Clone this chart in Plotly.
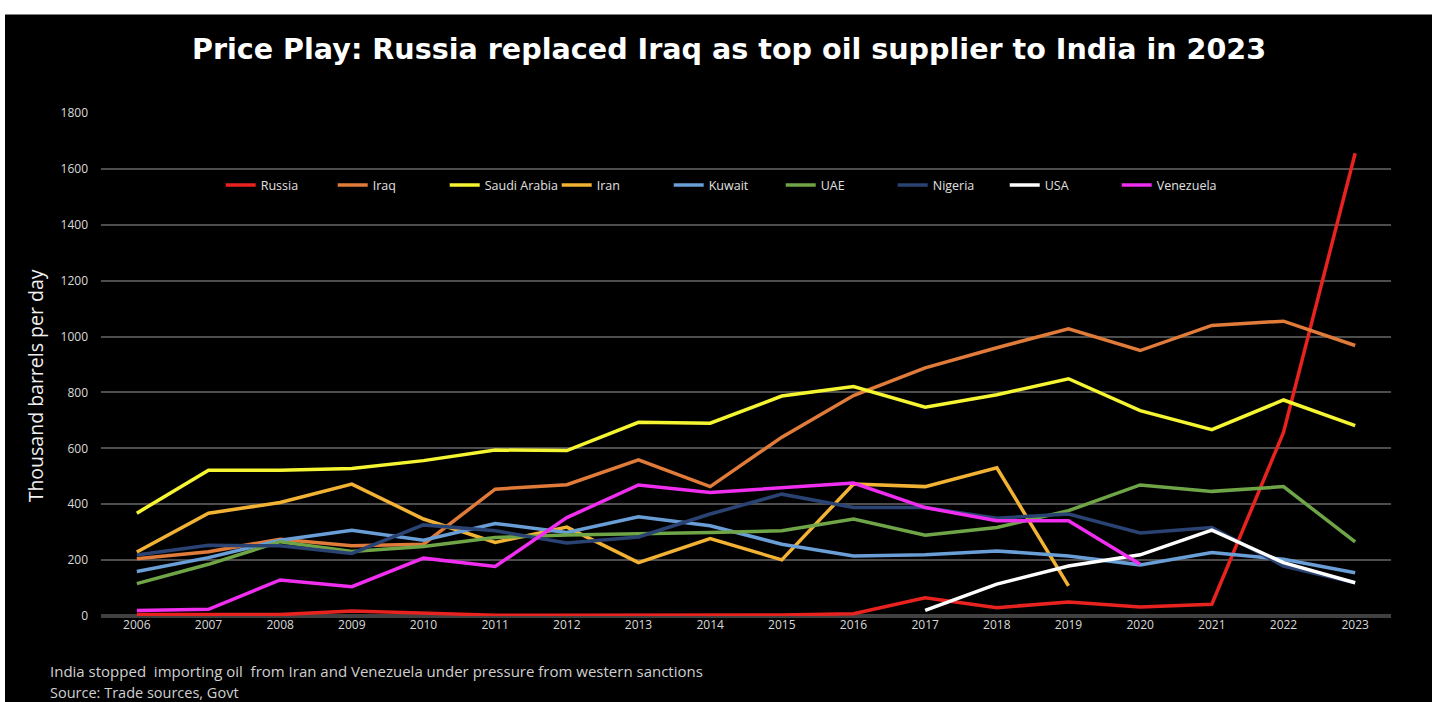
import plotly.graph_objects as go

years = list(range(2006, 2024))

russia = [5, 5, 5, 18, 10, 3, 3, 3, 3, 4, 8, 65, 30, 50, 32, 42, 657, 1656]
iraq = [205, 230, 275, 251, 257, 454, 470, 559, 463, 640, 789, 888, 960, 1028, 950, 1040, 1055, 968]
saudi = [368, 522, 522, 528, 556, 594, 592, 693, 690, 787, 821, 747, 792, 849, 735, 667, 773, 681]
iran = [229, 368, 406, 472, 347, 263, 318, 191, 277, 201, 472, 463, 530, 108, None, None, None, None]
kuwait = [159, 209, 271, 307, 271, 331, 299, 355, 323, 257, 215, 219, 233, 215, 183, 227, 203, 155]
uae = [116, 185, 266, 231, 249, 281, 290, 293, 299, 305, 347, 289, 317, 377, 469, 446, 463, 265]
nigeria = [218, 253, 251, 224, 326, 305, 261, 283, 365, 436, 388, 388, 350, 365, 297, 317, 179, 119]
usa = [None] * 11 + [20, 114, 179, 219, 307, 191, 119]
venezuela = [20, 24, 129, 105, 207, 177, 352, 469, 442, 460, 476, 388, 341, 341, 185, None, None, None]

series = [
    ("Russia", russia, "#E8231F"),
    ("Iraq", iraq, "#E07B39"),
    ("Saudi Arabia", saudi, "#F5F532"),
    ("Iran", iran, "#F2B233"),
    ("Kuwait", kuwait, "#6A9ED6"),
    ("UAE", uae, "#6FA547"),
    ("Nigeria", nigeria, "#2A4373"),
    ("USA", usa, "#FFFFFF"),
    ("Venezuela", venezuela, "#F02EF0"),
]

y_ticks = list(range(0, 2000, 200))

fig = go.Figure()
for name, vals, color in series:
    fig.add_trace(go.Scatter(
        x=years, y=vals, name=name, mode="lines",
        line=dict(color=color, width=3.5),
        connectgaps=False,
    ))

font_main = "Open Sans, DejaVu Sans, sans-serif"

fig.update_layout(
    width=1432, height=702,
    paper_bgcolor="#000000",
    plot_bgcolor="#000000",
    margin=dict(l=101, r=41, t=113, b=86),
    title=dict(
        text="<b>Price Play: Russia replaced Iraq as top oil supplier to India in 2023</b>",
        x=729 / 1432, xanchor="center",
        y=1 - 49 / 702, yanchor="middle",
        font=dict(family="DejaVu Sans, sans-serif", size=28.6, color="#FFFFFF"),
    ),
    showlegend=True,
    legend=dict(
        orientation="h",
        x=0.4835, xanchor="center",
        y=0.856, yanchor="middle",
        bgcolor="rgba(0,0,0,0)",
        font=dict(family=font_main, size=12.5, color="#E0E0E0"),
        entrywidth=67,
        entrywidthmode="pixels",
        traceorder="normal",
    ),
    xaxis=dict(
        range=[2005.5, 2023.5],
        tickmode="array",
        tickvals=years,
        ticktext=[str(y) for y in years],
        showgrid=False,
        zeroline=False,
        showline=False,
        ticks="",
        tickfont=dict(family=font_main, size=12, color="#D9D9D9"),
        fixedrange=True,
    ),
    yaxis=dict(
        range=[0, 1800],
        tickmode="array",
        tickvals=y_ticks,
        ticktext=[str(v) for v in y_ticks],
        showgrid=True,
        gridcolor="#4D4D4D",
        gridwidth=1.5,
        zeroline=True,
        zerolinecolor="#404040",
        zerolinewidth=4,
        showline=False,
        ticks="",
        ticklabelstandoff=12,
        tickfont=dict(family=font_main, size=12, color="#D9D9D9"),
        fixedrange=True,
    ),
    annotations=[
        dict(
            text="Thousand barrels per day",
            xref="paper", yref="paper",
            x=(35 - 101) / 1290, y=(615.7 - 386) / 503.1,
            xanchor="center", yanchor="middle",
            textangle=-90, showarrow=False,
            font=dict(family=font_main, size=19.5, color="#F0F0F0"),
        ),
        dict(
            text="India stopped  importing oil  from Iran and Venezuela under pressure from western sanctions",
            xref="paper", yref="paper",
            x=(48 - 101) / 1290, y=(615.7 - 671) / 503.1,
            xanchor="left", yanchor="middle",
            showarrow=False,
            font=dict(family=font_main, size=15, color="#D0D0D0"),
        ),
        dict(
            text="Source: Trade sources, Govt",
            xref="paper", yref="paper",
            x=(48 - 101) / 1290, y=(615.7 - 692) / 503.1,
            xanchor="left", yanchor="middle",
            showarrow=False,
            font=dict(family=font_main, size=14.5, color="#D0D0D0"),
        ),
    ],
    shapes=[
        dict(type="rect", xref="paper", yref="paper",
             x0=(0 - 101) / 1290, x1=(1432 - 101) / 1290,
             y0=(615.7 - 14) / 503.1, y1=(615.7 - 0) / 503.1 + 0.01,
             fillcolor="#FFFFFF", line=dict(width=0), layer="below"),
        dict(type="rect", xref="paper", yref="paper",
             x0=(0 - 101) / 1290, x1=(5 - 101) / 1290,
             y0=(615.7 - 702) / 503.1 - 0.01, y1=(615.7 - 0) / 503.1 + 0.01,
             fillcolor="#FFFFFF", line=dict(width=0), layer="below"),
    ],
)

fig.write_html("out.html")
